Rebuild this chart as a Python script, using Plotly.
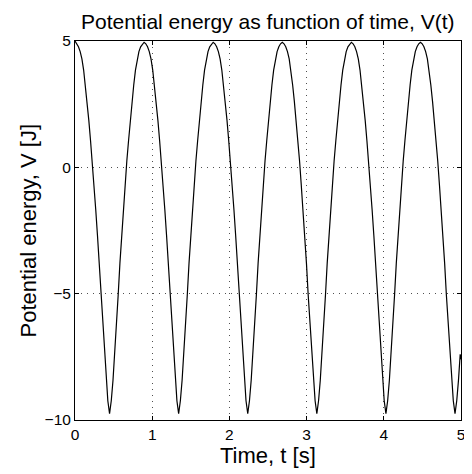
import plotly.graph_objects as go

# Sampling interval of the curve (s) (40 samples per ~0.895 s period)
SAMPLE_DT = 0.022375
END_TIME = 5.0

# Potential energy samples V [J]
V_values = [
    5.00, 4.89, 4.77, 4.58, 4.29, 3.85, 3.26, 2.60, 1.86, 1.05,
    0.25, -0.71, -1.67, -2.69, -3.80, -5.05, -6.22, -7.40, -8.43, -9.24,
    -9.75, -9.24, -8.43, -7.40, -6.22, -5.05, -3.80, -2.69, -1.67, -0.71,
    0.25, 1.05, 1.86, 2.60, 3.26, 3.85, 4.29, 4.58, 4.77, 4.89,
    4.95, 4.89, 4.77, 4.58, 4.29, 3.85, 3.26, 2.60, 1.86, 1.05,
    0.25, -0.71, -1.67, -2.69, -3.80, -5.05, -6.22, -7.40, -8.43, -9.24,
    -9.75, -9.24, -8.43, -7.40, -6.22, -5.05, -3.80, -2.69, -1.67, -0.71,
    0.25, 1.05, 1.86, 2.60, 3.26, 3.85, 4.29, 4.58, 4.77, 4.89,
    4.95, 4.89, 4.77, 4.58, 4.29, 3.85, 3.26, 2.60, 1.86, 1.05,
    0.25, -0.71, -1.67, -2.69, -3.80, -5.05, -6.22, -7.40, -8.43, -9.24,
    -9.75, -9.24, -8.43, -7.40, -6.22, -5.05, -3.80, -2.69, -1.67, -0.71,
    0.25, 1.05, 1.86, 2.60, 3.26, 3.85, 4.29, 4.58, 4.77, 4.89,
    4.95, 4.89, 4.77, 4.58, 4.29, 3.85, 3.26, 2.60, 1.86, 1.05,
    0.25, -0.71, -1.67, -2.69, -3.80, -5.05, -6.22, -7.40, -8.43, -9.24,
    -9.75, -9.24, -8.43, -7.40, -6.22, -5.05, -3.80, -2.69, -1.67, -0.71,
    0.25, 1.05, 1.86, 2.60, 3.26, 3.85, 4.29, 4.58, 4.77, 4.89,
    4.95, 4.89, 4.77, 4.58, 4.29, 3.85, 3.26, 2.60, 1.86, 1.05,
    0.25, -0.71, -1.67, -2.69, -3.80, -5.05, -6.22, -7.40, -8.43, -9.24,
    -9.75, -9.24, -8.43, -7.40, -6.22, -5.05, -3.80, -2.69, -1.67, -0.71,
    0.25, 1.05, 1.86, 2.60, 3.26, 3.85, 4.29, 4.58, 4.77, 4.89,
    4.95, 4.89, 4.77, 4.58, 4.29, 3.85, 3.26, 2.60, 1.86, 1.05,
    0.25, -0.71, -1.67, -2.69, -3.80, -5.05, -6.22, -7.40, -8.43, -9.24,
    -9.75, -9.24, -8.43, -7.40,
    -7.60,
]

x_tick_vals = [0, 1, 2, 3, 4, 5]
x_tick_text = ["0", "1", "2", "3", "4", "5"]
y_tick_vals = [-10, -5, 0, 5]
y_tick_text = ["\u221210", "\u22125", "0", "5"]

title_text = "Potential energy as function of time, V(t)"
x_title = "Time, t [s]"
y_title = "Potential energy, V [J]"

n = len(V_values)
t = [round(i * SAMPLE_DT, 6) for i in range(n - 1)] + [END_TIME]

FONT = "Liberation Sans, Arial, Helvetica, sans-serif"
TITLE_SIZE = 21
LABEL_SIZE = 22
TICK_SIZE = 15.5

fig = go.Figure()
fig.add_trace(go.Scatter(
    x=t, y=V_values, mode="lines",
    line=dict(color="black", width=1.2),
    showlegend=False, hoverinfo="skip",
))

axis_common = dict(
    showline=True, linecolor="black", linewidth=1, mirror="allticks",
    ticks="inside", ticklen=4, tickcolor="black", tickwidth=1,
    showgrid=True, gridcolor="rgba(60,60,60,0.9)", gridwidth=1,
    griddash="1px,5px",
    zeroline=False, automargin=False,
    tickfont=dict(family=FONT, size=TICK_SIZE, color="black"),
)

# The page body adds an 8px offset, so the figure is sized to the visible area
fig.update_layout(
    width=464, height=466,
    margin=dict(l=67, r=11, t=33, b=54),
    paper_bgcolor="white", plot_bgcolor="white",
    xaxis=dict(range=[0, 5], tickvals=x_tick_vals, ticktext=x_tick_text, **axis_common),
    yaxis=dict(range=[-10, 5], tickvals=y_tick_vals, ticktext=y_tick_text, **axis_common),
    annotations=[
        dict(text=title_text, xref="paper", yref="paper", x=0.5, y=1.0, yshift=20,
             xanchor="center", yanchor="middle", showarrow=False, borderpad=0,
             font=dict(family=FONT, size=TITLE_SIZE, color="black")),
        dict(text=x_title, xref="paper", yref="paper", x=0.5, y=0.0, yshift=-35,
             xanchor="center", yanchor="middle", showarrow=False,
             font=dict(family=FONT, size=LABEL_SIZE, color="black")),
        dict(text=y_title, xref="paper", yref="paper", x=0.0, y=0.5, xshift=-47,
             xanchor="center", yanchor="middle", showarrow=False, textangle=-90,
             font=dict(family=FONT, size=LABEL_SIZE, color="black")),
    ],
)

fig.write_html("out.html")
